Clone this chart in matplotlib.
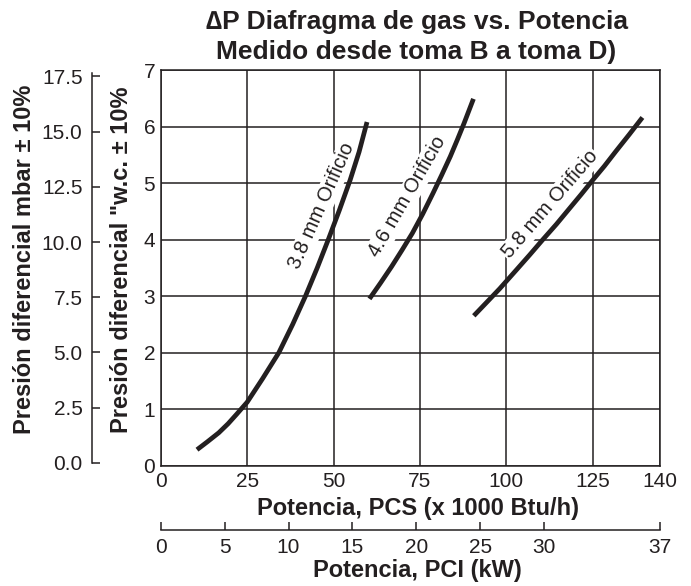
import numpy as np
import matplotlib.pyplot as plt

plt.rcParams['font.family'] = ['Liberation Sans', 'DejaVu Sans']

# curves: potencia PCS (x1000 Btu/h) vs presion diferencial ("w.c.)
x38 = [10.5, 13.5, 16.8, 19.5, 22.0, 25.0, 29.5, 34.2, 38.2, 41.9, 45.3, 48.5, 51.7, 54.8, 57.4, 59.7]
y38 = [0.28, 0.42, 0.58, 0.74, 0.91, 1.12, 1.54, 2.00, 2.50, 3.00, 3.50, 4.00, 4.52, 5.05, 5.55, 6.08]
x46 = [60.4, 63.6, 66.8, 69.8, 72.8, 75.8, 78.8, 81.3, 83.8, 85.8, 87.8, 90.5]
y46 = [2.95, 3.23, 3.52, 3.81, 4.11, 4.45, 4.82, 5.14, 5.47, 5.76, 6.06, 6.49]
x58 = [90.6, 94.2, 98.1, 102.9, 106.8, 110.6, 114.5, 118.3, 121.7, 125.0, 128.4, 131.7, 135.6, 139.4]
y58 = [2.65, 2.88, 3.13, 3.46, 3.73, 4.00, 4.27, 4.55, 4.80, 5.05, 5.30, 5.56, 5.86, 6.16]

labels = ['3.8 mm Orificio', '4.6 mm Orificio', '5.8 mm Orificio']
label_pos = [(46.6, 4.59, 66.0), (71.4, 4.76, 60.0), (112.8, 4.62, 49.2)]

pcs_ticks = [0, 25, 50, 75, 100, 125, 144.5]
pcs_labels = ['0', '25', '50', '75', '100', '125', '140']
kw_ticks = [0, 5, 10, 15, 20, 25, 30, 144.5 / 3.698]
kw_labels = ['0', '5', '10', '15', '20', '25', '30', '37']
wc_ticks = [0, 1, 2, 3, 4, 5, 6, 7]
mbar_ticks = [0, 2.5, 5, 7.5, 10, 12.5, 15, 17.5]

ink = '#231f20'

fig = plt.figure(figsize=(6.91, 5.86), dpi=100)
ax = fig.add_axes([0.2326, 0.2056, 0.7226, 0.6749])

for xs, ys in [(x38, y38), (x46, y46), (x58, y58)]:
    ax.plot(xs, ys, color=ink, lw=3.4, solid_capstyle='butt', zorder=4)

for txt, (tx, ty, rot) in zip(labels, label_pos):
    ax.text(tx, ty, txt, rotation=rot, rotation_mode='anchor', ha='center', va='center',
            fontsize=14.5, color=ink, zorder=3,
            bbox=dict(facecolor='white', edgecolor='none', pad=1))

ax.set_xlim(0, 144.5)
ax.set_ylim(0, 7)
ax.set_xticks(pcs_ticks)
ax.set_xticklabels(pcs_labels)
ax.set_yticks(wc_ticks)
ax.grid(True, color=ink, lw=1.1)
ax.set_axisbelow(True)
for s in ax.spines.values():
    s.set_color(ink)
    s.set_linewidth(1.1)
ax.tick_params(axis='both', length=0, labelsize=15, colors=ink)
ax.tick_params(axis='x', pad=5)
ax.tick_params(axis='y', pad=4)

# mbar axis
sec_y = ax.secondary_yaxis(-0.137, functions=(lambda y: 2.56 * y - 0.127, lambda m: (m + 0.127) / 2.56))
sec_y.set_yticks(mbar_ticks)
sec_y.set_yticklabels(['%.1f' % v for v in mbar_ticks])
sec_y.tick_params(direction='in', length=6, width=1.1, labelsize=15, pad=7, colors=ink)
sec_y.spines['left'].set_bounds(0, 17.65)
sec_y.spines['left'].set_color(ink)
sec_y.spines['left'].set_linewidth(1.1)

# kW axis
sec_x = ax.secondary_xaxis(-0.163, functions=(lambda x: x / 3.698, lambda k: k * 3.698))
sec_x.set_xticks(kw_ticks)
sec_x.set_xticklabels(kw_labels)
sec_x.tick_params(direction='in', length=6, width=1.1, labelsize=15, pad=6, colors=ink)
sec_x.spines['bottom'].set_color(ink)
sec_x.spines['bottom'].set_linewidth(1.1)

fig.text(417.6 / 691, 1 - 508.3 / 586, 'Potencia, PCS (x 1000 Btu/h)', ha='center', va='center',
         fontsize=17, fontweight='bold', color=ink)
fig.text(417.6 / 691, 1 - 570 / 586, 'Potencia, PCI (kW)', ha='center', va='center',
         fontsize=17, fontweight='bold', color=ink)

fig.text(122 / 691, 1 - 260 / 586, 'Presión diferencial "w.c. ± 10%', rotation=90, ha='center', va='center',
         fontsize=17, fontweight='bold', color=ink)
fig.text(25 / 691, 1 - 259 / 586, 'Presión diferencial mbar ± 10%', rotation=90, ha='center', va='center',
         fontsize=17, fontweight='bold', color=ink)

fig.text(417.5 / 691, 1 - 21.7 / 586, '\u2206P Diafragma de gas vs. Potencia', ha='center', va='center',
         fontsize=19, fontweight='bold', color=ink)
fig.text(416 / 691, 1 - 51.7 / 586, 'Medido desde toma B a toma D)', ha='center', va='center',
         fontsize=19, fontweight='bold', color=ink)

fig.savefig('out.png', dpi=100)
